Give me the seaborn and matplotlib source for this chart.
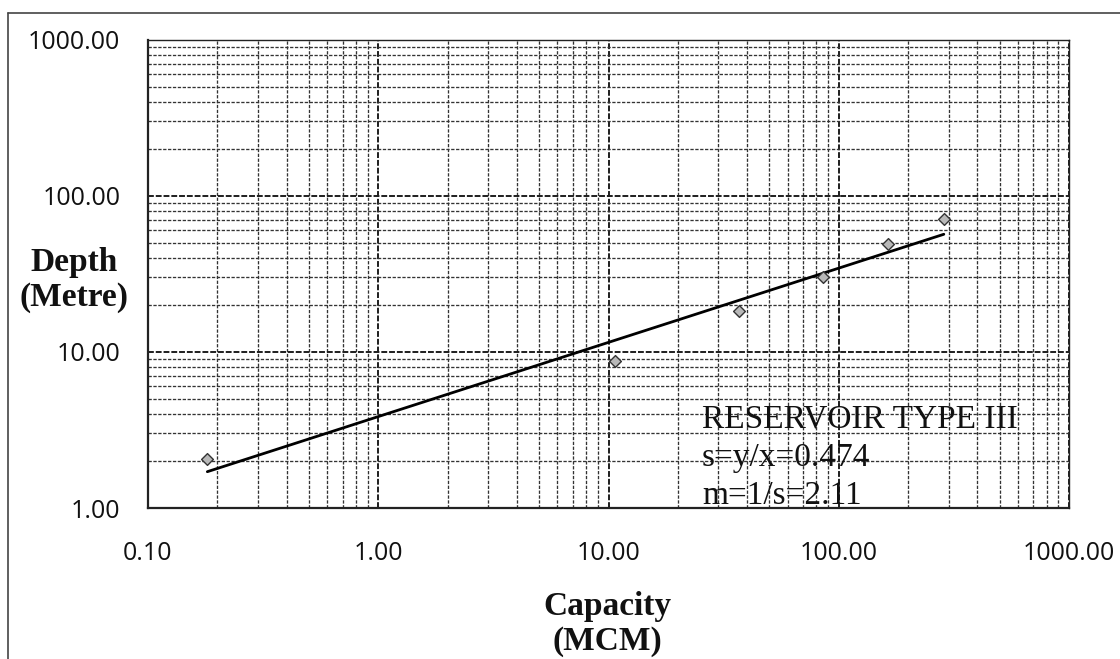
import numpy as np
import pandas as pd
import matplotlib
matplotlib.use("Agg")
import matplotlib.pyplot as plt
from matplotlib.ticker import LogLocator, FixedLocator, FormatStrFormatter, NullFormatter
from matplotlib.lines import Line2D
import seaborn as sns

# ---- data ----
capacity_mcm = [0.181, 10.7, 36.9, 85.5, 164.0, 286.0]
depth_m = [2.05, 8.73, 18.2, 30.1, 49.0, 70.8]
x_ticks = [0.1, 1.0, 10.0, 100.0, 1000.0]
y_ticks = [1.0, 10.0, 100.0, 1000.0]
annotation_lines = ["RESERVOIR TYPE III", "s=y/x=0.474", "m=1/s=2.11"]
x_label = "Capacity\n(MCM)"
y_label = "Depth\n(Metre)"

df = pd.DataFrame({"Capacity": capacity_mcm, "Depth": depth_m})

# power-law fit in log space
b, a = np.polyfit(np.log10(df["Capacity"]), np.log10(df["Depth"]), 1)
fit_x = np.array([df["Capacity"].min(), df["Capacity"].max()])
fit_df = pd.DataFrame({"Capacity": fit_x, "Depth": 10 ** (a + b * np.log10(fit_x))})

sns.set_theme(style="white")
plt.rcParams["font.family"] = ["Open Sans", "DejaVu Sans"]

W, H = 1120, 659
fig = plt.figure(figsize=(W / 100, H / 100), dpi=100)
L, R, T, B = 148, 1069, 39.5, 508
ax = fig.add_axes([L / W, 1 - B / H, (R - L) / W, (B - T) / H])

ax.set_xscale("log")
ax.set_yscale("log")
ax.set_xlim(0.1, 1000)
ax.set_ylim(1, 1000)

# grid
ax.xaxis.set_major_locator(FixedLocator(x_ticks))
ax.yaxis.set_major_locator(FixedLocator(y_ticks))
ax.xaxis.set_minor_locator(LogLocator(base=10, subs=np.arange(2, 10)))
ax.yaxis.set_minor_locator(LogLocator(base=10, subs=np.arange(2, 10)))
ax.xaxis.set_minor_formatter(NullFormatter())
ax.yaxis.set_minor_formatter(NullFormatter())
ax.grid(True, which="major", color="#1e1e1e", linestyle=(0, (3, 1)), linewidth=1.4)
ax.grid(True, which="minor", color="#333333", linestyle=(0, (2.5, 1.2)), linewidth=0.95)
ax.set_axisbelow(True)

sns.lineplot(data=fit_df, x="Capacity", y="Depth", ax=ax, color="black",
             linewidth=2.0, zorder=3)
sns.scatterplot(data=df, x="Capacity", y="Depth", ax=ax, marker="D", s=36,
                color="#b8b8b8", edgecolor="#333333", linewidth=1.0, zorder=4)

ax.xaxis.set_major_formatter(FormatStrFormatter("%.2f"))
ax.yaxis.set_major_formatter(FormatStrFormatter("%.2f"))
ax.tick_params(axis="both", which="major", direction="out", length=6, width=1,
               color="#222222", labelsize=18, labelcolor="#111111")
ax.tick_params(axis="x", which="major", pad=18)
ax.tick_params(axis="y", which="major", pad=14)
ax.tick_params(which="minor", length=0)

for s in ax.spines.values():
    s.set_color("#222222")
    s.set_linewidth(1.0)
ax.spines["left"].set_linewidth(1.6)
ax.spines["bottom"].set_linewidth(1.6)

ax.set_xlabel("")
ax.set_ylabel("")

serif = ["Liberation Serif", "DejaVu Serif"]
fig.text(607 / W, 1 - 624 / H, x_label, ha="center", va="center",
         fontsize=24, fontweight="bold", family=serif, color="#111111",
         linespacing=1.12)
fig.text(74 / W, 1 - 280 / H, y_label, ha="center", va="center",
         fontsize=24, fontweight="bold", family=serif, color="#111111",
         linespacing=1.12)

baselines = [427, 466, 504]
for txt, yb in zip(annotation_lines, baselines):
    fig.text(702 / W, 1 - yb / H, txt, ha="left", va="baseline",
             fontsize=24, family=serif, color="#111111")

# outer chart-area border (left and top edges visible)
fig.add_artist(Line2D([8 / W, 8 / W], [0, 1 - 13 / H], transform=fig.transFigure,
                      color="#444444", linewidth=1.2))
fig.add_artist(Line2D([8 / W, 1], [1 - 13 / H, 1 - 13 / H], transform=fig.transFigure,
                      color="#444444", linewidth=1.2))

fig.savefig("out.png", dpi=100, facecolor="white")
